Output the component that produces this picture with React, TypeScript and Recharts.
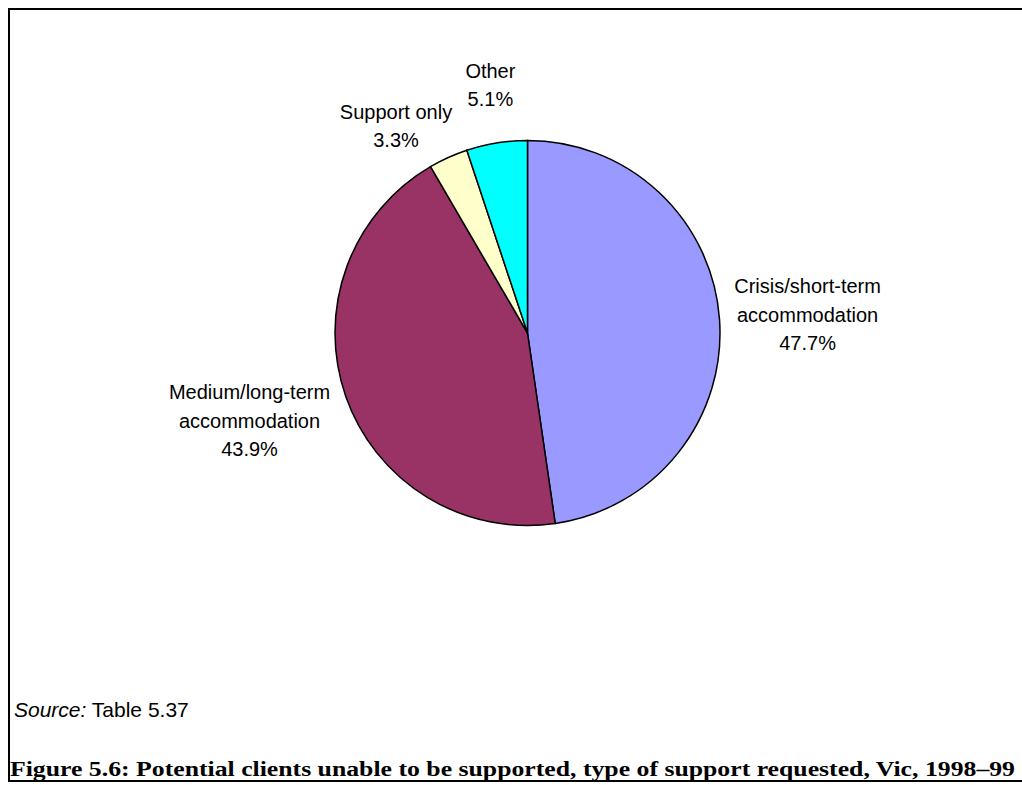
import React from 'react'
import { PieChart, Pie, Cell } from 'recharts'

// support types, clockwise from 12 o'clock
const categories = [
    'Crisis/short-term\naccommodation',
    'Medium/long-term\naccommodation',
    'Support only',
    'Other',
]
const shares = [47.7, 43.9, 3.3, 5.1]
const sliceColors = ['#9999FF', '#993366', '#FFFFCC', '#00FFFF']

const sourceNote = 'Table 5.37'
const caption = 'Figure 5.6: Potential clients unable to be supported, type of support requested, Vic, 1998\u201399'

const data = categories.map((name, i) => ({ name, value: shares[i] }))

// excel shuffles a couple of labels around to avoid crowding
const labelNudge = [
    { dx: 0, dy: 0 },
    { dx: -6, dy: 5 },
    { dx: -23, dy: 8 },
    { dx: 0, dy: -15 },
]

const LABEL_FONT = 20
const LINE_H = 28.5
const RADIAN = Math.PI / 180

let ctx: CanvasRenderingContext2D | null = null
function textWidth(s: string) {
    if (!ctx) ctx = document.createElement('canvas').getContext('2d')
    if (!ctx) return s.length * LABEL_FONT * 0.5
    ctx.font = `${LABEL_FONT}px "Liberation Sans", Arial, sans-serif`
    return ctx.measureText(s).width
}

function renderLabel(props: any) {
    const { cx, cy, midAngle, outerRadius, index, value, name } = props
    const lines = [...String(name).split('\n'), `${Number(value).toFixed(1)}%`]
    const w = Math.max(...lines.map(textWidth))
    const h = lines.length * LINE_H
    const cos = Math.cos(-midAngle * RADIAN)
    const sin = Math.sin(-midAngle * RADIAN)
    const r = outerRadius + 15
    const nudge = labelNudge[index] || { dx: 0, dy: 0 }
    const x = cx + r * cos + (w / 2) * cos + nudge.dx
    const y = cy + r * sin + (h / 2) * sin + nudge.dy
    return (
        <text
            x={x}
            y={y}
            textAnchor="middle"
            fill="#000"
            fontSize={LABEL_FONT}
            fontFamily='"Liberation Sans", Arial, sans-serif'
        >
            {lines.map((ln, i) => (
                <tspan key={i} x={x} y={y + (i - (lines.length - 1) / 2) * LINE_H} dominantBaseline="central">
                    {ln}
                </tspan>
            ))}
        </text>
    )
}

function App() {
    return (
        <div style={{ position: 'fixed', left: 0, top: 0, width: 1022, height: 785, overflow: 'hidden', background: '#fff' }}>
            <div
                style={{
                    position: 'absolute', left: 8, top: 8, width: 1014, height: 770,
                    borderTop: '2px solid #000', borderLeft: '2px solid #000', borderBottom: '2px solid #000',
                }}
            />
            <div style={{ position: 'absolute', left: 0, top: 0 }}>
                <PieChart width={1022} height={785} margin={{ top: 0, right: 0, bottom: 0, left: 0 }}>
                    <Pie
                        data={data}
                        dataKey="value"
                        nameKey="name"
                        cx={527.5}
                        cy={333}
                        outerRadius={192.5}
                        startAngle={90}
                        endAngle={-270}
                        stroke="#000"
                        strokeWidth={1.5}
                        label={renderLabel}
                        labelLine={false}
                        isAnimationActive={false}
                    >
                        {data.map((d, i) => (
                            <Cell key={d.name} fill={sliceColors[i]} />
                        ))}
                    </Pie>
                </PieChart>
            </div>
            <svg width={1022} height={785} style={{ position: 'absolute', left: 0, top: 0 }}>
                <text x={14} y={717} fontSize={21} fontFamily='"Liberation Sans", Arial, sans-serif' fill="#000">
                    <tspan fontStyle="italic">Source:</tspan>
                    <tspan> {sourceNote}</tspan>
                </text>
                <text
                    x={10}
                    y={776}
                    fontSize={20}
                    fontWeight="bold"
                    fontFamily='"Liberation Serif", "Times New Roman", serif'
                    fill="#000"
                    textLength={1005}
                    lengthAdjust="spacingAndGlyphs"
                >
                    {caption}
                </text>
            </svg>
        </div>
    )
}

export default App
